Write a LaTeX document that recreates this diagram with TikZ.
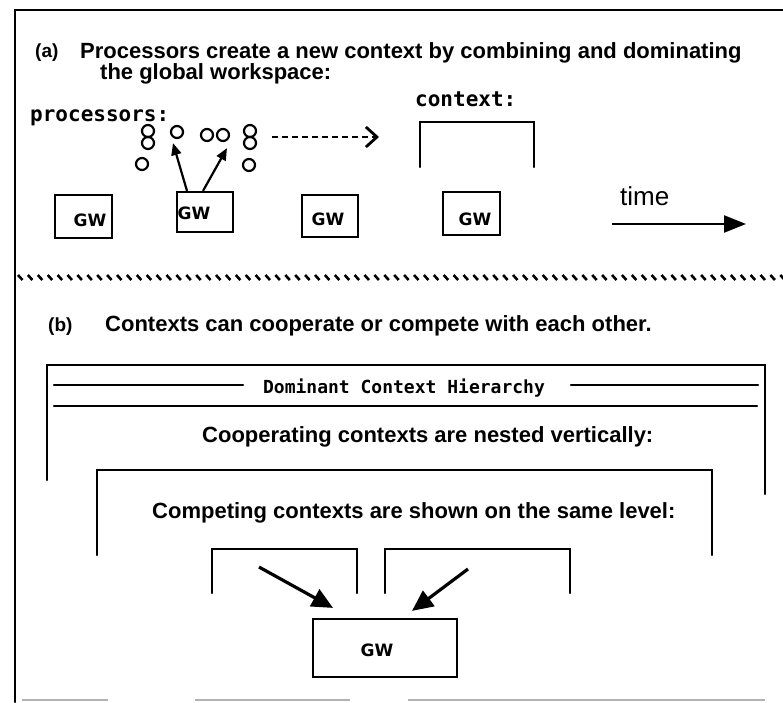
\documentclass[tikz,border=0pt]{standalone}
\usepackage{fontspec}
\setmainfont{Liberation Sans}
\newfontfamily\pixfont{DejaVu Sans Mono}
\newfontfamily\gwfont{DejaVu Sans}
\usetikzlibrary{arrows.meta,calc}
\tikzset{
  ln/.style={line width=2.2pt, line cap=round},
  thinln/.style={line width=1.5pt, gray!60},
  gwbox/.style={draw, line width=2.2pt, rectangle, inner sep=0pt},
  gwtxt/.style={font=\gwfont\bfseries\fontsize{17}{17}\selectfont, inner sep=0pt},
  head/.style={font=\bfseries\fontsize{22}{22}\selectfont, anchor=base west, inner sep=0pt},
  lab/.style={font=\bfseries\fontsize{19}{19}\selectfont, anchor=base west, inner sep=0pt},
  mono/.style={font=\pixfont\bfseries\fontsize{21}{21}\selectfont, anchor=base west, inner sep=0pt},
  proc/.style={circle, draw, line width=2.2pt, minimum size=12pt, inner sep=0pt},
  parr/.style={line width=2.2pt, -{Triangle[length=12pt,width=10pt]}},
  barr/.style={line width=3.2pt, -{Triangle[length=21pt,width=19pt]}},
  tick/.style={line width=2.6pt},
}
\begin{document}
\begin{tikzpicture}[x=1pt,y=-1pt]
\useasboundingbox (0,0) rectangle (783,702);
% outer frame
\draw[ln] (15,702) -- (15,10) -- (783,10);
\draw[thinln] (22,700) -- (108,700);
\draw[thinln] (195,700) -- (350,700);
\draw[thinln] (408,700) -- (765,700);

% ---------- part (a)
\node[lab] (la) at (35,57) {(a)};
\node[head] (h1) at (80,58) {Processors create a new context by combining and dominating};
\node[head] (h2) at (100,79) {the global workspace:};
\node[mono] (procl) at (30,121) {processors:};
\node[mono] (ctxl) at (415,106) {context:};

% processors
\node[proc] (c1) at (148,131) {};
\node[proc] (c2) at (148,143) {};
\node[proc] (c3) at (142,164) {};
\node[proc] (c4) at (177,132) {};
\node[proc] (c5) at (207,135) {};
\node[proc] (c6) at (223,135) {};
\node[proc] (c7) at (250,131) {};
\node[proc] (c8) at (250,143) {};
\node[proc] (c9) at (249,165) {};

% GW boxes
\node[gwbox, minimum width=57pt, minimum height=43pt] (gw1) at (83.5,216.5) {};
\node[gwtxt] (t1) at (90,220) {GW};
\node[gwbox, minimum width=56pt, minimum height=40pt] (gw2) at (205,212) {};
\node[gwtxt] (t2) at (194,213) {GW};
\node[gwbox, minimum width=56pt, minimum height=42pt] (gw3) at (330,216) {};
\node[gwtxt] (t3) at (328,219) {GW};
\node[gwbox, minimum width=57pt, minimum height=43pt] (gw4) at (471.5,213.5) {};
\node[gwtxt] (t4) at (475,219) {GW};

\draw[parr] ($(gw2.north)+(-18,0)$) -- ($(c4.south)+(-4,4)$);
\draw[parr] ($(gw2.north)+(-2,0)$) -- ($(c6.south)+(4,6)$);

% dotted arrow
\coordinate (ds) at (272,137);
\coordinate (de) at (379,137);
\draw[line width=2.6pt, dash pattern=on 6pt off 4pt, -{Straight Barb[length=11pt,width=20pt,line width=2.8pt]}] (ds) -- (de);

% context bracket
\draw[ln] (420,167) -- (420,122) -- (534,122) -- (534,167);

% time
\node[font=\fontsize{26}{26}\selectfont, anchor=base west, inner sep=0pt] (time) at (620,205) {time};
\coordinate (ts) at (612,224);
\coordinate (te) at (746,224);
\draw[line width=2.4pt, -{Triangle[length=22pt,width=17pt]}] (ts) -- (te);

% divider
\foreach \i in {0,...,77} {
  \draw[tick] ({18+9.9*\i},275) -- ++(4.5,5);
}

% ---------- part (b)
\node[lab] (lb) at (48,331) {(b)};
\node[head] (h3) at (105,331) {Contexts can cooperate or compete with each other.};

\draw[ln] (47,480) -- (47,365) -- (765,365) -- (765,494);
\draw[ln] (54,385) -- (243,385);
\draw[ln] (571,385) -- (758,385);
\draw[ln] (54,406) -- (757,406);
\node[font=\pixfont\bfseries\fontsize{18}{18}\selectfont, anchor=base, inner sep=0pt] (dch) at (404,393) {Dominant Context Hierarchy};
\node[head] (coop) at (202,442) {Cooperating contexts are nested vertically:};

\draw[ln] (97,555) -- (97,470) -- (712,470) -- (712,555);
\node[head] (comp) at (152,518) {Competing contexts are shown on the same level:};

\draw[ln] (212,593) -- (212,549) -- (357,549) -- (357,593);
\draw[ln] (385,593) -- (385,549) -- (570,549) -- (570,593);

\node[gwbox, minimum width=144pt, minimum height=58pt] (gwb) at (385,648) {};
\node[gwtxt] (tb) at (377,650) {GW};

\coordinate (a1s) at (259,567);
\coordinate (a2s) at (468,569);
\draw[barr] (a1s) -- ($(gwb.north)+(-52,-10)$);
\draw[barr] (a2s) -- ($(gwb.north)+(27,-7)$);
\end{tikzpicture}
\end{document}
